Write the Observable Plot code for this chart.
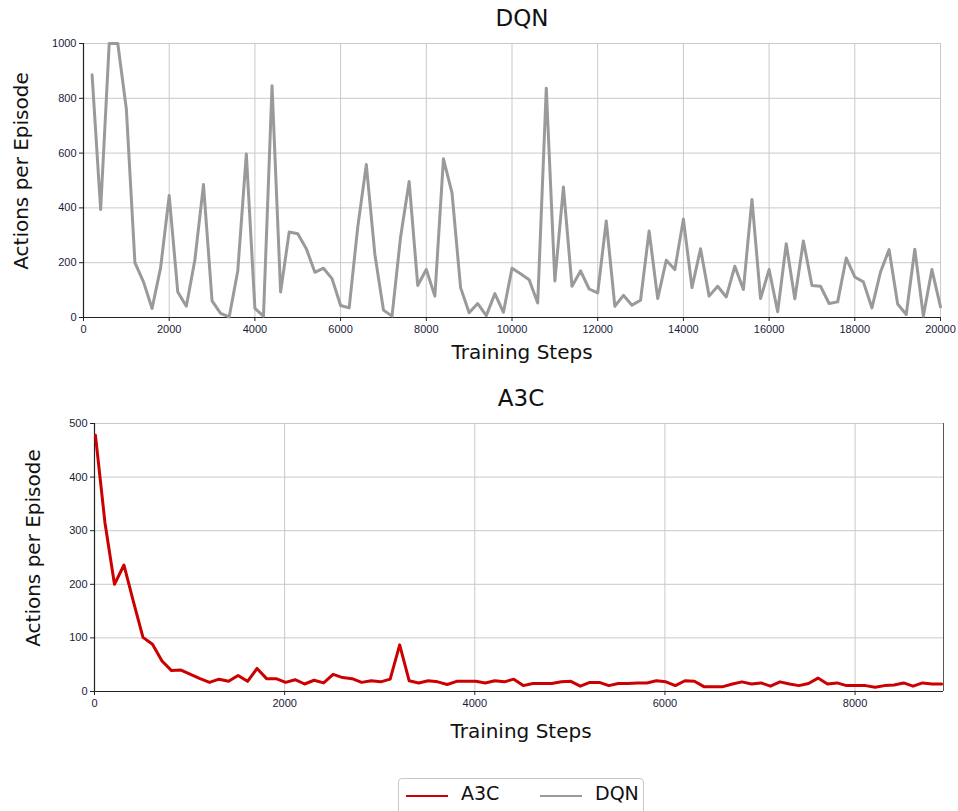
<!DOCTYPE html>
<html>
<head>
<meta charset="utf-8">
<script src="https://cdn.jsdelivr.net/npm/d3@7"></script>
<script src="https://cdn.jsdelivr.net/npm/@observablehq/plot@0.6"></script>
<style>
  html, body { margin: 0; padding: 0; background: #fff; }
  #root { position: relative; width: 958px; height: 811px; overflow: hidden; background: #fff; font-family: "DejaVu Sans", sans-serif; }
  .abs { position: absolute; }
  .title { font-size: 23px; color: #111; transform: translate(-50%, -50%); white-space: nowrap; }
  .xlab { font-size: 20px; color: #111; transform: translate(-50%, -50%); white-space: nowrap; }
  .ylab { font-size: 20px; color: #111; transform: translate(-50%, -50%) rotate(-90deg); white-space: nowrap; }
  #legend { left: 398px; top: 778px; width: 246px; height: 40px; border: 1px solid #c8c8c8; border-radius: 4px; box-sizing: border-box; font-size: 19px; color: #111; }
  #legend .sw { position: absolute; top: 16px; width: 42px; height: 0; border-top-width: 2px; border-top-style: solid; }
  #legend .lt { position: absolute; top: 3px; }
</style>
</head>
<body>
<div id="root"></div>
<script>
// ---------- DATA ----------
const dqnSteps = [200,400,600,800,1000,1200,1400,1600,1800,2000,
  2200,2400,2600,2800,3000,3200,3400,3600,3800,4000,
  4200,4400,4600,4800,5000,5200,5400,5600,5800,6000,
  6200,6400,6600,6800,7000,7200,7400,7600,7800,8000,
  8200,8400,8600,8800,9000,9200,9400,9600,9800,10000,
  10200,10400,10600,10800,11000,11200,11400,11600,11800,12000,
  12200,12400,12600,12800,13000,13200,13400,13600,13800,14000,
  14200,14400,14600,14800,15000,15200,15400,15600,15800,16000,
  16200,16400,16600,16800,17000,17200,17400,17600,17800,18000,
  18200,18400,18600,18800,19000,19200,19400,19600,19800,20000];
const dqnActions = [886,394,1000,1000,761,200,130,33,182,445,
  93,41,211,485,61,15,2,170,597,33,
  5,846,93,312,306,251,165,180,142,44,
  35,330,558,230,27,5,294,496,117,175,
  78,579,455,109,17,51,7,87,19,180,
  160,138,53,837,133,476,114,170,104,90,
  352,41,81,45,63,316,69,209,175,359,
  109,251,78,114,75,187,102,431,69,175,
  21,269,68,279,117,114,51,57,217,148,
  130,35,166,248,49,11,249,5,175,39];

const a3cSteps = [10,110,210,310,410,510,610,710,810,910,
  1010,1110,1210,1310,1410,1510,1610,1710,1810,1910,
  2010,2110,2210,2310,2410,2510,2610,2710,2810,2910,
  3010,3110,3210,3310,3410,3510,3610,3710,3810,3910,
  4010,4110,4210,4310,4410,4510,4610,4710,4810,4910,
  5010,5110,5210,5310,5410,5510,5610,5710,5810,5910,
  6010,6110,6210,6310,6410,6510,6610,6710,6810,6910,
  7010,7110,7210,7310,7410,7510,7610,7710,7810,7910,
  8010,8110,8210,8310,8410,8510,8610,8710,8810,8910];
const a3cActions = [478,315,200,236,167,101,88,57,39,40,
  32,24,17,23,19,30,19,43,24,24,
  17,22,14,21,16,32,26,24,17,20,
  18,23,87,20,16,20,18,13,19,19,
  19,16,20,18,23,11,15,15,15,18,
  19,10,17,17,11,15,15,16,16,20,
  18,11,20,19,9,9,9,14,18,14,
  16,10,18,14,11,15,25,14,16,11,
  11,11,8,11,12,16,10,16,14,14];

const dqnXTicks = [0,2000,4000,6000,8000,10000,12000,14000,16000,18000,20000];
const dqnYTicks = [0,200,400,600,800,1000];
const a3cXTicks = [0,2000,4000,6000,8000];
const a3cYTicks = [0,100,200,300,400,500];

const seriesNames = ["A3C", "DQN"];
const seriesColors = ["#cc0000", "#9a9a9a"];

// ---------- BUILD ----------
const root = document.getElementById("root");
function addDiv(cls, text, x, y) {
  const d = document.createElement("div");
  d.className = "abs " + cls;
  d.textContent = text;
  d.style.left = x + "px";
  d.style.top = y + "px";
  root.appendChild(d);
  return d;
}
const tickFont = {fontFamily: "Liberation Sans, Arial, sans-serif", fontSize: 11, color: "#1a1a3a"};
const plainFmt = d => String(d);

function makeChart({steps, values, color, xDomain, yDomain, xTicks, yTicks, top, height, mt, mb, ml, mr, frameRight}) {
  const data = steps.map((s, i) => ({step: s, v: values[i]}));
  const marks = [
    Plot.gridX(xTicks, {stroke: "#c9c9c9", strokeOpacity: 1}),
    Plot.gridY(yTicks, {stroke: "#c9c9c9", strokeOpacity: 1}),
    Plot.axisX(xTicks, {tickSize: 4, tickPadding: 4, stroke: "#222", fill: "#1a1a3a", tickFormat: plainFmt}),
    Plot.axisY(yTicks, {tickSize: 4, tickPadding: 3, stroke: "#222", fill: "#1a1a3a", tickFormat: plainFmt}),
    Plot.ruleY([yDomain[0]], {stroke: "#222", strokeWidth: 1.2}),
    Plot.ruleX([xDomain[0]], {stroke: "#222", strokeWidth: 1.2}),
  ];
  if (frameRight) marks.push(Plot.ruleX([xDomain[1]], {stroke: "#555", strokeWidth: 1}));
  marks.push(Plot.line(data, {x: "step", y: "v", stroke: color, strokeWidth: 3, strokeLinejoin: "round"}));
  const svg = Plot.plot({
    width: 958, height,
    marginTop: mt, marginBottom: mb, marginLeft: ml, marginRight: mr,
    style: {background: "transparent", fontFamily: tickFont.fontFamily, fontSize: tickFont.fontSize + "px", color: tickFont.color, overflow: "visible"},
    x: {domain: xDomain, label: null},
    y: {domain: yDomain, label: null},
    marks
  });
  svg.style.position = "absolute";
  svg.style.left = "0px";
  svg.style.top = top + "px";
  root.appendChild(svg);
}

// DQN (top)
makeChart({steps: dqnSteps, values: dqnActions, color: seriesColors[1],
  xDomain: [0, 20000], yDomain: [0, 1000], xTicks: dqnXTicks, yTicks: dqnYTicks,
  top: 30, height: 320, mt: 13, mb: 33, ml: 83, mr: 18, frameRight: false});
addDiv("title", "DQN", 522, 18);
addDiv("xlab", "Training Steps", 522, 352);
addDiv("ylab", "Actions per Episode", 21, 171);

// A3C (bottom)
makeChart({steps: a3cSteps, values: a3cActions, color: seriesColors[0],
  xDomain: [0, 8930], yDomain: [0, 500], xTicks: a3cXTicks, yTicks: a3cYTicks,
  top: 410, height: 310, mt: 13, mb: 29, ml: 94, mr: 15, frameRight: true});
addDiv("title", "A3C", 521, 398);
addDiv("xlab", "Training Steps", 521, 731);
addDiv("ylab", "Actions per Episode", 33, 548);

// Legend
const lg = document.createElement("div");
lg.id = "legend"; lg.className = "abs";
const pos = [{sw: 7, t: 62}, {sw: 141, t: 196}];
seriesNames.forEach((n, i) => {
  const sw = document.createElement("div");
  sw.className = "sw"; sw.style.left = pos[i].sw + "px"; sw.style.borderTopColor = seriesColors[i];
  lg.appendChild(sw);
  const t = document.createElement("div");
  t.className = "lt"; t.style.left = pos[i].t + "px"; t.textContent = n;
  lg.appendChild(t);
});
root.appendChild(lg);
</script>
</body>
</html>
